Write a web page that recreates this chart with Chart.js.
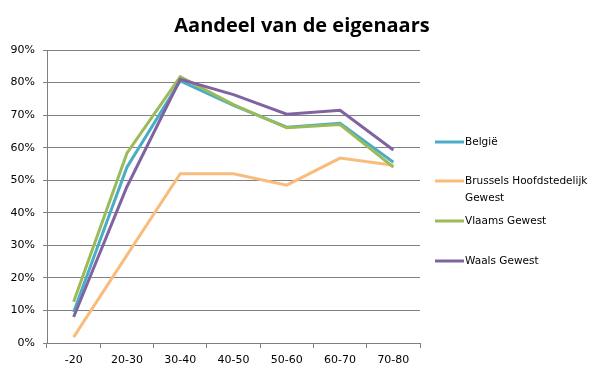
<!DOCTYPE html>
<html>
<head>
<meta charset="utf-8">
<script src="https://cdn.jsdelivr.net/npm/chart.js@4"></script>
<style>
  html, body { margin: 0; padding: 0; background: #ffffff; }
  #wrap { width: 605px; height: 378px; position: relative; }
</style>
</head>
<body>
<div id="wrap"><canvas id="myChart" width="605" height="378"></canvas></div>
<script>
// chart data (percent)
const titleText = 'Aandeel van de eigenaars';
const ageGroups = ['-20', '20-30', '30-40', '40-50', '50-60', '60-70', '70-80'];
const belgie = [9.5, 54, 80.5, 73, 66.3, 67.5, 55.5];
const brussel = [1.8, 27, 52, 52, 48.5, 56.8, 54.6];
const vlaanderen = [12.7, 58.3, 81.8, 73.2, 66.1, 67.1, 54];
const wallonie = [8, 48, 81, 76.3, 70.3, 71.5, 59.3];
const seriesNames = ['België', ['Brussels Hoofdstedelijk', 'Gewest'], 'Vlaams Gewest', 'Waals Gewest'];

const tickFont = { family: 'DejaVu Sans', size: 11 };
const gridColor = '#808080';

// draws the title and the legend on the right, the way Excel placed them
const excelBits = {
    id: 'excelBits',
    afterDraw(chart) {
        const c = chart.ctx;
        c.save();
        c.fillStyle = '#000000';
        c.font = 'bold 20px "Open Sans"';
        c.textAlign = 'center';
        c.textBaseline = 'middle';
        c.fillText(titleText, 302, 26);

        const rows = [142, 181, 221, 261];
        c.font = '10.5px "DejaVu Sans"';
        c.textAlign = 'left';
        chart.data.datasets.forEach((ds, i) => {
            const y = rows[i];
            c.strokeStyle = ds.borderColor;
            c.lineWidth = 3;
            c.beginPath();
            c.moveTo(435, y);
            c.lineTo(464, y);
            c.stroke();
            const lines = Array.isArray(seriesNames[i]) ? seriesNames[i] : [seriesNames[i]];
            c.fillStyle = '#000000';
            lines.forEach((t, j) => c.fillText(t, 465, y + j * 17));
        });
        c.restore();
    }
};

const ctx = document.getElementById('myChart').getContext('2d');
const myChart = new Chart(ctx, {
    type: 'line',
    data: {
        labels: ageGroups,
        datasets: [
            { label: 'België', data: belgie, borderColor: '#4BACC6', order: 3 },
            { label: 'Brussels Hoofdstedelijk Gewest', data: brussel, borderColor: '#FABC7C', order: 2 },
            { label: 'Vlaams Gewest', data: vlaanderen, borderColor: '#9BBB59', order: 1 },
            { label: 'Waals Gewest', data: wallonie, borderColor: '#8064A2', order: 0 }
        ].map(d => Object.assign(d, {
            backgroundColor: d.borderColor,
            borderWidth: 3,
            pointRadius: 0,
            tension: 0,
            fill: false
        }))
    },
    options: {
        responsive: false,
        animation: false,
        layout: { padding: { top: 50, right: 185, left: 0, bottom: 0 } },
        plugins: {
            legend: { display: false },
            title: { display: false },
            tooltip: { enabled: false }
        },
        scales: {
            x: {
                offset: true,
                grid: {
                    offset: true,
                    drawOnChartArea: false,
                    color: gridColor,
                    tickLength: 5
                },
                border: { color: gridColor },
                ticks: { font: tickFont, color: '#000000', padding: 6, maxRotation: 0 },
                afterFit(scale) { scale.height = 35; }
            },
            y: {
                min: 0,
                max: 90,
                grid: { color: gridColor, tickLength: 4 },
                border: { color: gridColor },
                ticks: {
                    stepSize: 10,
                    font: tickFont,
                    color: '#000000',
                    padding: 8,
                    callback: v => v + '%'
                },
                afterFit(scale) { scale.width = 47; }
            }
        }
    },
    plugins: [excelBits]
});
</script>
</body>
</html>
